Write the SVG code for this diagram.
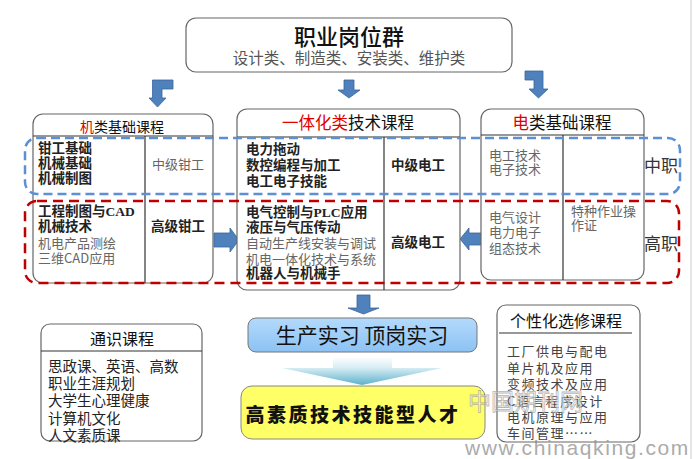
<svg xmlns="http://www.w3.org/2000/svg" width="694" height="459" viewBox="0 0 694 459">
<style>
.box{fill:#fff;stroke:#666;stroke-width:1.2}
.ln{stroke:#333;stroke-width:1.2}
.t{font-family:"Noto Sans CJK SC","Liberation Sans",sans-serif;dominant-baseline:central}
.b{font-family:"Liberation Serif","Noto Sans CJK SC",serif;font-weight:bold;font-size:13.5px;fill:#222;dominant-baseline:central}
.g{font-family:"Noto Sans CJK SC","Liberation Sans",sans-serif;font-size:13px;fill:#666;dominant-baseline:central}
.arr{fill:#4f81bd;stroke:#3b6699;stroke-width:0.8}
.blue{fill:none;stroke:#5b8fd6;stroke-width:2.5;stroke-dasharray:9 5}
.red{fill:none;stroke:#c00000;stroke-width:2.5;stroke-dasharray:10 6}
.hd{font-family:"Noto Sans CJK SC",sans-serif;font-size:16px;fill:#111;dominant-baseline:central;text-anchor:middle}
.it{font-family:"Noto Sans CJK SC",sans-serif;font-size:14.5px;fill:#222;dominant-baseline:central}
.it2{font-family:"Noto Sans CJK SC",sans-serif;font-size:13px;fill:#444;dominant-baseline:central;letter-spacing:1.5px}
</style>
<defs>
<linearGradient id="gb" x1="0" y1="0" x2="0" y2="1"><stop offset="0" stop-color="#b4dafc"/><stop offset="1" stop-color="#8cc2f4"/></linearGradient>
<linearGradient id="gf" x1="0" y1="357" x2="0" y2="385" gradientUnits="userSpaceOnUse"><stop offset="0" stop-color="#ffffff"/><stop offset="0.4" stop-color="#d4ecf2"/><stop offset="1" stop-color="#5eb0cc"/></linearGradient>
</defs>
<rect width="694" height="459" fill="#fff"/>
<line x1="691" y1="0" x2="691" y2="459" stroke="#ddd" stroke-width="1.5"/>

<g id="top">
<rect class="box" x="186" y="18" width="326" height="54" rx="10"/>
<text class="t" x="349" y="35" font-size="22" font-weight="500" text-anchor="middle" fill="#111">职业岗位群</text>
<text class="t" x="349" y="57" font-size="15.5" text-anchor="middle" fill="#555">设计类、制造类、安装类、维护类</text>
</g>

<g id="connectors">
<path class="arr" d="M173,80 L152.5,80 L152.5,98 L149,98 L157.5,107 L166,98 L162,98 L162,89 L173,89 Z"/>
<path class="arr" d="M344,80 L354,80 L354,90 L360,90 L349,98 L338,90 L344,90 Z"/>
<path class="arr" d="M525,71 L543,71 L543,89 L548,89 L538.5,98 L529,89 L534,89 L534,80 L525,80 Z"/>
<path class="arr" d="M214,233 L230,233 L230,228 L239,240 L230,252 L230,247 L214,247 Z"/>
<path class="arr" d="M482,233 L469,233 L469,228 L460,239 L469,250 L469,245 L482,245 Z"/>
<path class="arr" d="M357,295 L370,295 L370,308 L379,308 L363.5,314 L348,308 L357,308 Z"/>
<path d="M333,357 L392,357 L392,368 L442,368 L362,385 L282,368 L333,368 Z" fill="url(#gf)"/>
</g>

<g id="mech">
<rect class="box" x="33" y="114" width="180" height="169" rx="10"/>
<line class="ln" x1="33" y1="136" x2="213" y2="136"/>
<line class="ln" x1="145" y1="136" x2="145" y2="283"/>
<text class="t" x="122" y="126" font-size="14" text-anchor="middle" fill="#111"><tspan fill="#e00000">机</tspan>类基础课程</text>
<text class="b" x="38" y="148">钳工基础</text>
<text class="b" x="38" y="163">机械基础</text>
<text class="b" x="38" y="178">机械制图</text>
<text class="g" x="178" y="163" font-size="14" text-anchor="middle">中级钳工</text>
<text class="b" x="38" y="211">工程制图与CAD</text>
<text class="b" x="38" y="226">机械技术</text>
<text class="g" x="38" y="242">机电产品测绘</text>
<text class="g" x="38" y="257">三维CAD应用</text>
<text class="b" x="178" y="226" text-anchor="middle">高级钳工</text>
</g>

<g id="integ">
<rect class="box" x="237" y="109" width="223" height="181" rx="10"/>
<line class="ln" x1="237" y1="137" x2="460" y2="137"/>
<line class="ln" x1="384" y1="137" x2="384" y2="290"/>
<text class="t" x="348" y="122" font-size="16.5" text-anchor="middle" fill="#111"><tspan fill="#e00000">一体化类</tspan>技术课程</text>
<text class="b" x="246" y="149">电力拖动</text>
<text class="b" x="246" y="165">数控编程与加工</text>
<text class="b" x="246" y="181">电工电子技能</text>
<text class="b" x="418" y="165" text-anchor="middle">中级电工</text>
<text class="b" x="246" y="212">电气控制与PLC应用</text>
<text class="b" x="246" y="227">液压与气压传动</text>
<text class="g" x="246" y="242">自动生产线安装与调试</text>
<text class="g" x="246" y="258">机电一体化技术与系统</text>
<text class="b" x="246" y="273">机器人与机械手</text>
<text class="b" x="418" y="242" text-anchor="middle">高级电工</text>
</g>

<g id="elec">
<rect class="box" x="481" y="109" width="163" height="171" rx="10"/>
<line class="ln" x1="481" y1="135" x2="644" y2="135"/>
<line class="ln" x1="563" y1="135" x2="563" y2="280"/>
<text class="t" x="562" y="122" font-size="16.5" text-anchor="middle" fill="#111"><tspan fill="#e00000">电</tspan>类基础课程</text>
<text class="g" x="489" y="154">电工技术</text>
<text class="g" x="489" y="168">电子技术</text>
<text class="g" x="489" y="216">电气设计</text>
<text class="g" x="489" y="231">电力电子</text>
<text class="g" x="489" y="247">组态技术</text>
<text class="g" x="571" y="210">特种作业操</text>
<text class="g" x="571" y="224">作证</text>
</g>

<g id="levels">
<rect class="blue" x="25" y="138" width="655" height="56" rx="12"/>
<rect class="red" x="25" y="201" width="654" height="82" rx="12"/>
<text class="t" x="661" y="164" font-size="17" text-anchor="middle" fill="#333">中职</text>
<text class="t" x="661" y="242" font-size="17" text-anchor="middle" fill="#333">高职</text>
</g>

<g id="practice">
<rect x="248" y="318" width="229" height="34" rx="8" fill="url(#gb)" stroke="#777" stroke-width="1"/>
<text class="t" x="362" y="334" font-size="21" text-anchor="middle" fill="#111">生产实习 顶岗实习</text>
</g>

<g id="talent">
<rect x="241" y="386" width="244" height="53" rx="11" fill="#ffff66" stroke="#888" stroke-width="1"/>
<text class="t" x="353" y="413" font-size="19" font-weight="900" text-anchor="middle" letter-spacing="2.5" fill="#111">高素质技术技能型人才</text>
</g>

<g id="general">
<rect class="box" x="41" y="324" width="161" height="117" rx="9"/>
<line class="ln" x1="41" y1="351" x2="202" y2="351"/>
<text class="hd" x="122" y="338">通识课程</text>
<text class="it" x="48" y="365">思政课、英语、高数</text>
<text class="it" x="48" y="382">职业生涯规划</text>
<text class="it" x="48" y="399">大学生心理健康</text>
<text class="it" x="48" y="417">计算机文化</text>
<text class="it" x="48" y="434">人文素质课</text>
</g>

<g id="elective">
<rect class="box" x="497" y="305" width="143" height="137" rx="9"/>
<line class="ln" x1="499" y1="333" x2="632" y2="333"/>
<text class="hd" x="566" y="320">个性化选修课程</text>
<text class="it2" x="507" y="350">工厂供电与配电</text>
<text class="it2" x="507" y="367">单片机及应用</text>
<text class="it2" x="507" y="383">变频技术及应用</text>
<text class="it2" x="507" y="400">C语言程序设计</text>
<text class="it2" x="507" y="416">电机原理与应用</text>
<text class="it2" x="507" y="432">车间管理……</text>
</g>

<g id="watermark" opacity="0.7">
<text class="t" x="468" y="400" font-size="23" fill="#fff" stroke="#999" stroke-width="0.8">中国期刊网</text>
<text x="465" y="455" font-family="Liberation Sans, sans-serif" font-size="21" fill="#888" letter-spacing="1.6">www.chinaqking.com</text>
</g>
</svg>
